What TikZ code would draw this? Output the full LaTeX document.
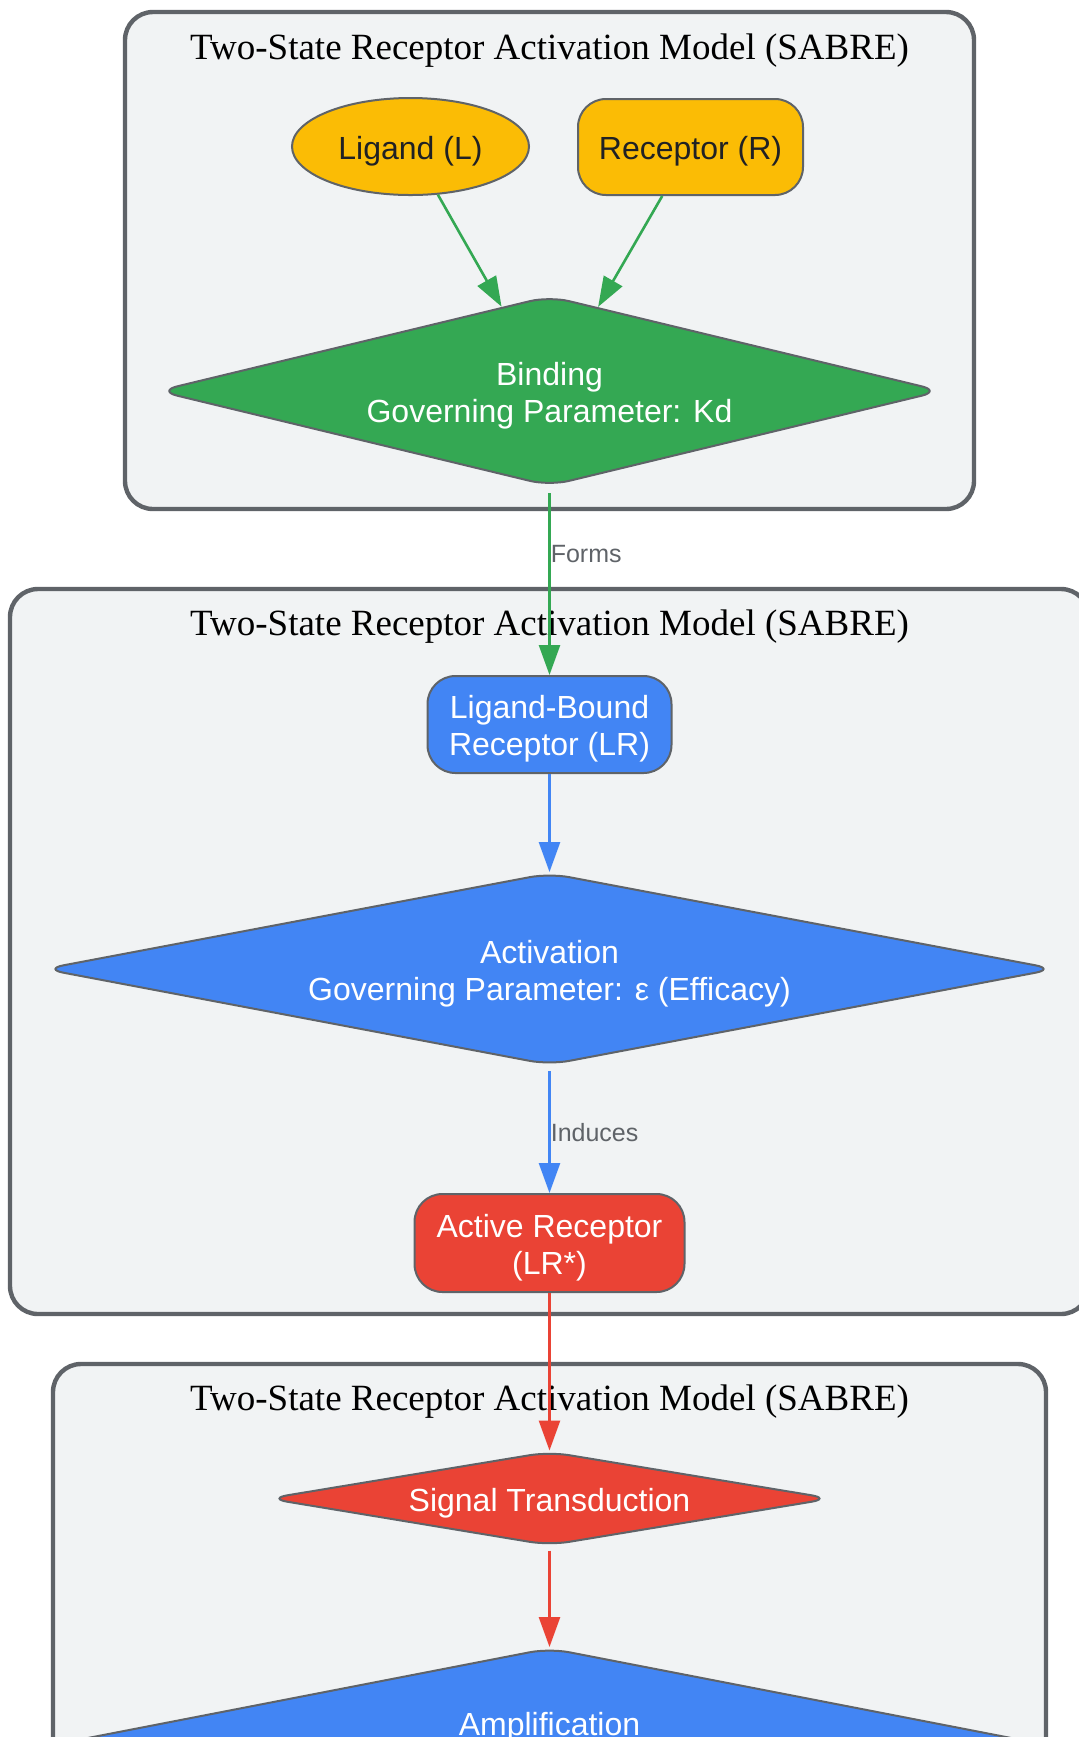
\documentclass[tikz,border=0pt]{standalone}
\usepackage{fontspec}
\setmainfont{Liberation Serif}
\newfontfamily\nodefont{Liberation Sans}
\usetikzlibrary{shapes.geometric,arrows.meta}
\definecolor{ggreen}{HTML}{34A853}
\definecolor{gblue}{HTML}{4285F4}
\definecolor{gred}{HTML}{EA4335}
\definecolor{gyellow}{HTML}{FBBC05}
\definecolor{cfill}{HTML}{F1F3F4}
\definecolor{cborder}{HTML}{5F6368}
\definecolor{nborder}{HTML}{5F6368}
\definecolor{lgray}{HTML}{5F6368}
\definecolor{dtext}{HTML}{202124}
\newcommand\firstup{\rule{0pt}{16pt}}
\begin{document}
\begin{tikzpicture}[x=0.5pt,y=-0.5pt,
  cluster/.style={draw=cborder, fill=cfill, line width=2.2pt, rounded corners=14pt},
  ctitle/.style={font=\fontsize{18.5}{22}\selectfont, anchor=base, inner sep=0},
  basenode/.style={draw=nborder, line width=1pt, font=\nodefont\fontsize{16}{18.5}\selectfont, align=center, inner sep=0},
  rbox/.style={basenode, rectangle, rounded corners=14pt},
  dia/.style={basenode, diamond, rounded corners=10pt, aspect=5},
  flow/.style={line width=1.3pt, -{Triangle[length=15pt,width=10.5pt]}},
  elabel/.style={font=\nodefont\fontsize{12.5}{14}\selectfont, text=lgray, anchor=west, inner sep=0}
]
\useasboundingbox (0,0) rectangle (1079,1737);
\clip (0,0) rectangle (1079,1737);
% clusters
\draw[cluster] (125,12) rectangle (974,509);
\draw[cluster] (10,589) rectangle (1089,1314);
\draw[cluster] (53,1364) rectangle (1046,1790);
\node[ctitle] (t1) at (549.5,59) {Two-State Receptor Activation Model (SABRE)};
\node[ctitle] (t2) at (549.5,635) {Two-State Receptor Activation Model (SABRE)};
\node[ctitle] (t3) at (549.5,1410) {Two-State Receptor Activation Model (SABRE)};
% nodes
\node[basenode, ellipse, fill=gyellow, text=dtext, minimum width=118.5pt, minimum height=48.5pt] (lig) at (410.5,146.5) {\firstup Ligand (L)};
\node[rbox, fill=gyellow, text=dtext, minimum width=112.5pt, minimum height=48pt] (rec) at (690.5,147) {\firstup Receptor (R)};
\node[dia, fill=ggreen, text=white, minimum width=392pt, minimum height=95pt] (bind) at (549.5,391) {\firstup Binding\\Governing Parameter: Kd};
\node[rbox, fill=gblue, text=white, minimum width=122pt, minimum height=48.5pt] (lr) at (549.5,724.5) {\firstup Ligand-Bound\\Receptor (LR)};
\node[dia, fill=gblue, text=white, minimum width=506pt, minimum height=96pt] (act) at (549.5,969) {\firstup Activation\\Governing Parameter: ε (Efficacy)};
\node[rbox, fill=gred, text=white, minimum width=135pt, minimum height=49pt] (ar) at (549.5,1243) {\firstup Active Receptor\\(LR*)};
\node[dia, aspect=6, fill=gred, text=white, minimum width=282pt, minimum height=47pt] (sig) at (549.5,1498.5) {\firstup Signal Transduction};
\node[dia, fill=gblue, text=white, minimum width=493pt, minimum height=96pt] (amp) at (549.5,1744) {\firstup Amplification\\\strut};
% edges
\draw[flow, ggreen] (lig) -- (bind);
\draw[flow, ggreen] (rec) -- (bind);
\draw[flow, ggreen, shorten <=3pt] (bind) -- node[elabel, pos=0.358] (lforms) {Forms} (lr);
\draw[flow, gblue] (lr) -- (act);
\draw[flow, gblue, shorten <=2.5pt] (act) -- node[elabel, pos=0.527] (linduces) {Induces} (ar);
\draw[flow, gred] (ar) -- (sig);
\draw[flow, gred, shorten <=2pt] (sig) -- (amp);
\end{tikzpicture}
\end{document}
